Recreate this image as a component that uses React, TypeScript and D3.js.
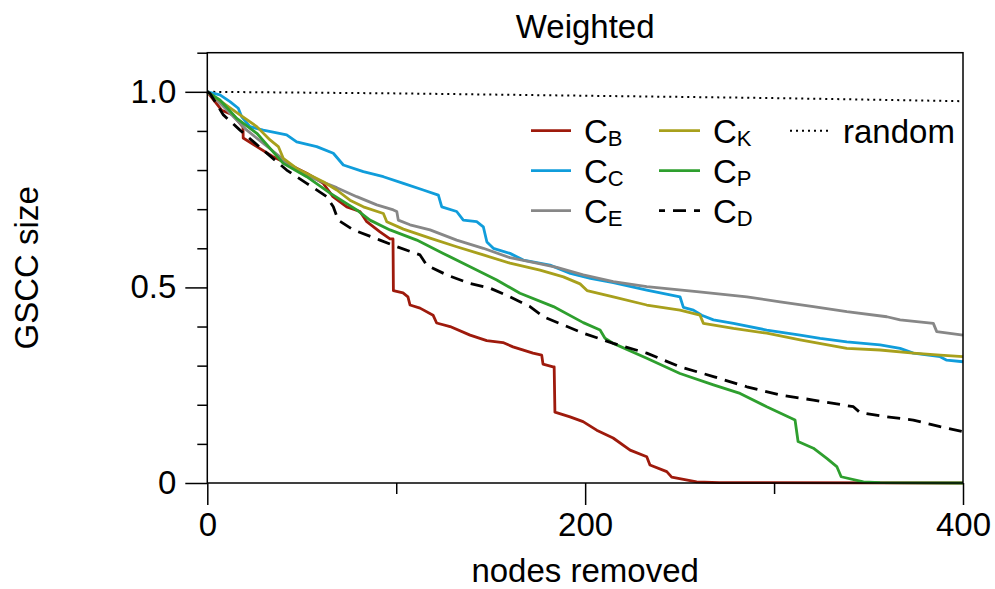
import { useRef, useEffect } from 'react';
import * as d3 from 'd3';

// [nodes removed, GSCC size]
const seriesB: [number, number][] = [
  [0, 1], [7.6, 0.953], [13.6, 0.941], [18.9, 0.91], [19, 0.882], [26.2, 0.86], [34.8, 0.834],
  [43.8, 0.813], [52.6, 0.792], [61.2, 0.767], [66.5, 0.732], [73.8, 0.706], [80.8, 0.694],
  [84.4, 0.668], [91.4, 0.642], [96.7, 0.624], [98.3, 0.624], [98.5, 0.492], [103.6, 0.486],
  [106.2, 0.476], [107.3, 0.455], [112.6, 0.447], [119.5, 0.429], [121.4, 0.409], [128.5, 0.4],
  [139.1, 0.378], [147.9, 0.364], [156.5, 0.359], [161.8, 0.348], [172.4, 0.332], [177, 0.327],
  [177.7, 0.304], [183, 0.297], [183.6, 0.297], [184, 0.181], [192, 0.169], [198.9, 0.157],
  [206.1, 0.135], [214.8, 0.115], [223.8, 0.084], [232.6, 0.067], [234.3, 0.046], [243.2, 0.029],
  [245.8, 0.015], [259, 0.003], [271, 0.001], [400, 0],
];
const seriesC: [number, number][] = [
  [0, 1], [6.7, 0.992], [12, 0.975], [16.4, 0.958], [18.2, 0.936], [22.6, 0.911], [29.6, 0.902],
  [42, 0.89], [47.3, 0.872], [57.9, 0.86], [66.7, 0.843], [72, 0.813], [82.6, 0.796], [93.2, 0.783],
  [103.8, 0.766], [114.3, 0.749], [122.3, 0.736], [124.1, 0.706], [132, 0.694], [135.5, 0.672],
  [142.6, 0.668], [146.1, 0.655], [148, 0.616], [151.4, 0.6], [160.2, 0.587], [167.3, 0.57],
  [181.4, 0.557], [192.2, 0.536], [202.8, 0.523], [214.9, 0.512], [232.6, 0.493], [250.2, 0.476],
  [252, 0.449], [257.3, 0.442], [261.7, 0.429], [267.9, 0.417], [278.5, 0.408], [296.1, 0.391],
  [313.8, 0.378], [324.4, 0.37], [338.5, 0.361], [356.1, 0.353], [366.7, 0.344], [373.7, 0.332],
  [387.9, 0.323], [391.4, 0.314], [400, 0.31],
];
const seriesE: [number, number][] = [
  [0, 1], [8, 0.965], [20.9, 0.902], [38.5, 0.834], [42, 0.815], [56.1, 0.779], [68.5, 0.755],
  [79.1, 0.732], [89.7, 0.711], [98.5, 0.698], [100.3, 0.694], [101.1, 0.672], [107.3, 0.66],
  [117.9, 0.647], [132, 0.621], [146.1, 0.6], [160.2, 0.576], [174.4, 0.562], [185, 0.551],
  [199, 0.532], [214.9, 0.515], [232.6, 0.502], [259.1, 0.489], [285.6, 0.476], [303.2, 0.463],
  [320.8, 0.451], [338.5, 0.438], [359.7, 0.425], [366.7, 0.417], [384.3, 0.408], [386.1, 0.387],
  [400, 0.378],
];
const seriesK: [number, number][] = [
  [0, 1], [8.5, 0.971], [17.3, 0.941], [26.2, 0.911], [33.2, 0.877], [37.6, 0.86], [40.2, 0.83],
  [47.3, 0.804], [61.4, 0.77], [68.5, 0.749], [75.5, 0.723], [82.6, 0.706], [93.2, 0.689],
  [95, 0.668], [103.8, 0.649], [117.9, 0.626], [132, 0.604], [146.1, 0.583], [160.2, 0.562],
  [176.1, 0.544], [188.5, 0.527], [197.3, 0.509], [201, 0.492], [214.9, 0.476], [232.6, 0.455],
  [250.2, 0.442], [260.8, 0.429], [262.6, 0.408], [278.5, 0.395], [296.1, 0.383], [313.8, 0.366],
  [338.5, 0.344], [356.1, 0.34], [373.7, 0.332], [387.9, 0.327], [400, 0.323],
];
const seriesP: [number, number][] = [
  [0, 1], [6.7, 0.979], [15.6, 0.932], [26.2, 0.894], [40.2, 0.817], [52.6, 0.783], [65, 0.741],
  [79.1, 0.698], [86.1, 0.672], [96.7, 0.647], [110.9, 0.621], [124.9, 0.587], [139.1, 0.553],
  [153.2, 0.519], [165.5, 0.485], [183.2, 0.451], [199, 0.41], [207.9, 0.391], [210.5, 0.37],
  [214.9, 0.357], [232.6, 0.319], [250.2, 0.28], [267.9, 0.251], [282, 0.229], [296.1, 0.195],
  [311.1, 0.161], [312.7, 0.106], [320.8, 0.089], [327.9, 0.063], [333.2, 0.042], [335.5, 0.016],
  [347.3, 0.003], [356.1, 0.001], [400, 0],
];
const seriesD: [number, number][] = [
  [0, 1], [1.4, 0.996], [8.5, 0.941], [17.3, 0.902], [29.6, 0.851], [42, 0.8], [52.6, 0.766],
  [63.2, 0.732], [66.7, 0.706], [69.3, 0.672], [77.3, 0.647], [91.4, 0.621], [100.3, 0.604],
  [112.6, 0.583], [116.1, 0.557], [126.7, 0.532], [139.1, 0.51], [149.7, 0.498], [160.2, 0.476],
  [170.8, 0.451], [177.9, 0.425], [188.5, 0.404], [199, 0.383], [214.9, 0.357], [232.6, 0.332],
  [250.2, 0.297], [267.9, 0.272], [285.6, 0.246], [303.2, 0.225], [320.8, 0.212], [342, 0.195],
  [345.5, 0.18], [359.7, 0.169], [373.7, 0.161], [387.9, 0.144], [400, 0.131],
];
const seriesRandom: [number, number][] = [
  [0, 1], [50, 0.998], [100, 0.996], [150, 0.993], [200, 0.99], [250, 0.987], [300, 0.984],
  [350, 0.98], [400, 0.976],
];

const xMajorTicks = [0, 200, 400];
const xMinorTicks = [100, 300];
const yMajorTicks = [0, 0.5, 1.0];
const yMinorTicks = [0.1, 0.2, 0.3, 0.4, 0.6, 0.7, 0.8, 0.9, 1.1];

const lines = [
  { key: 'B', data: seriesB, color: '#9e1a0c', dash: null },
  { key: 'C', data: seriesC, color: '#109ddb', dash: null },
  { key: 'E', data: seriesE, color: '#878787', dash: null },
  { key: 'K', data: seriesK, color: '#a8a01c', dash: null },
  { key: 'P', data: seriesP, color: '#2e9f2e', dash: null },
  { key: 'D', data: seriesD, color: '#000000', dash: '13,8' },
];

const FONT = '"Liberation Sans", Arial, Helvetica, sans-serif';

const App = () => {
  const svgRef = useRef<SVGSVGElement | null>(null);

  useEffect(() => {
    if (!svgRef.current) return;
    const svg = d3.select(svgRef.current);
    svg.selectAll('*').remove();

    const left = 207.3, right = 963, top = 52.7, bottom = 483;
    const x = d3.scaleLinear().domain([0, 400]).range([left, right]);
    const y = d3.scaleLinear().domain([0, 1.1]).range([bottom, top]);

    const line = d3.line<[number, number]>()
      .x(d => x(d[0]))
      .y(d => y(d[1]));

    // random baseline
    svg.append('path')
      .datum(seriesRandom)
      .attr('fill', 'none')
      .attr('stroke', '#000')
      .attr('stroke-width', 2)
      .attr('stroke-dasharray', '2,4')
      .attr('d', line);

    lines.forEach(s => {
      svg.append('path')
        .datum(s.data)
        .attr('fill', 'none')
        .attr('stroke', s.color)
        .attr('stroke-width', 2.8)
        .attr('stroke-linejoin', 'round')
        .attr('stroke-dasharray', s.dash)
        .attr('d', line);
    });

    // frame
    svg.append('rect')
      .attr('x', left).attr('y', top)
      .attr('width', right - left).attr('height', bottom - top)
      .attr('fill', 'none').attr('stroke', '#000').attr('stroke-width', 1.5);

    const styleAxis = (g: any) => {
      g.select('.domain').remove();
      g.selectAll('line').attr('stroke', '#000').attr('stroke-width', 1.5);
      g.selectAll('text').attr('fill', '#000').style('font-family', FONT).style('font-size', '33px');
    };

    svg.append('g')
      .attr('transform', `translate(${left},0)`)
      .call(d3.axisLeft(y).tickValues(yMajorTicks).tickSize(22).tickPadding(9).tickSizeOuter(0))
      .call(styleAxis)
      .selectAll('text')
      .text((d: any) => (d === 0 ? '0' : d3.format('.1f')(d)));

    svg.append('g')
      .attr('transform', `translate(${left},0)`)
      .call(d3.axisLeft(y).tickValues(yMinorTicks).tickSize(10).tickFormat(() => '').tickSizeOuter(0))
      .call(styleAxis);

    svg.append('g')
      .attr('transform', `translate(0,${bottom})`)
      .call(d3.axisBottom(x).tickValues(xMajorTicks).tickSize(22).tickPadding(8).tickSizeOuter(0))
      .call(styleAxis);

    svg.append('g')
      .attr('transform', `translate(0,${bottom})`)
      .call(d3.axisBottom(x).tickValues(xMinorTicks).tickSize(11).tickFormat(() => '').tickSizeOuter(0))
      .call(styleAxis);

    const cx = (left + right) / 2;
    svg.append('text')
      .attr('x', cx).attr('y', 38)
      .attr('text-anchor', 'middle')
      .style('font-family', FONT).style('font-size', '33px')
      .text('Weighted');

    svg.append('text')
      .attr('x', cx).attr('y', 582)
      .attr('text-anchor', 'middle')
      .style('font-family', FONT).style('font-size', '33px')
      .text('nodes removed');

    svg.append('text')
      .attr('transform', `translate(38,${(top + bottom) / 2}) rotate(-90)`)
      .attr('text-anchor', 'middle')
      .style('font-family', FONT).style('font-size', '33px')
      .text('GSCC size');

    // legend
    const rows = [130.7, 170.7, 210.7];
    const cols = [{ x0: 531, x1: 571, tx: 584 }, { x0: 659, x1: 700, tx: 713 }];
    const legend = svg.append('g');
    lines.forEach((s, i) => {
      const c = cols[Math.floor(i / 3)];
      const ry = rows[i % 3];
      legend.append('line')
        .attr('x1', c.x0).attr('x2', c.x1)
        .attr('y1', ry).attr('y2', ry)
        .attr('stroke', s.color)
        .attr('stroke-width', 2.8)
        .attr('stroke-dasharray', s.dash)
        .attr('stroke-dashoffset', s.dash ? 7 : null);
      const t = legend.append('text')
        .attr('x', c.tx).attr('y', ry + 12)
        .style('font-family', FONT).style('font-size', '33px');
      t.append('tspan').text('C');
      t.append('tspan').attr('dy', 3.5).style('font-size', '22px').text(s.key);
    });
    legend.append('line')
      .attr('x1', 790).attr('x2', 828)
      .attr('y1', rows[0]).attr('y2', rows[0])
      .attr('stroke', '#000').attr('stroke-width', 2)
      .attr('stroke-dasharray', '2,4');
    legend.append('text')
      .attr('x', 843).attr('y', rows[0] + 12)
      .style('font-family', FONT).style('font-size', '33px')
      .text('random');
  }, []);

  return (
    <svg
      ref={svgRef}
      width={995}
      height={589}
      style={{ position: 'absolute', left: 0, top: 0, background: '#fff' }}
    />
  );
};

export default App;
